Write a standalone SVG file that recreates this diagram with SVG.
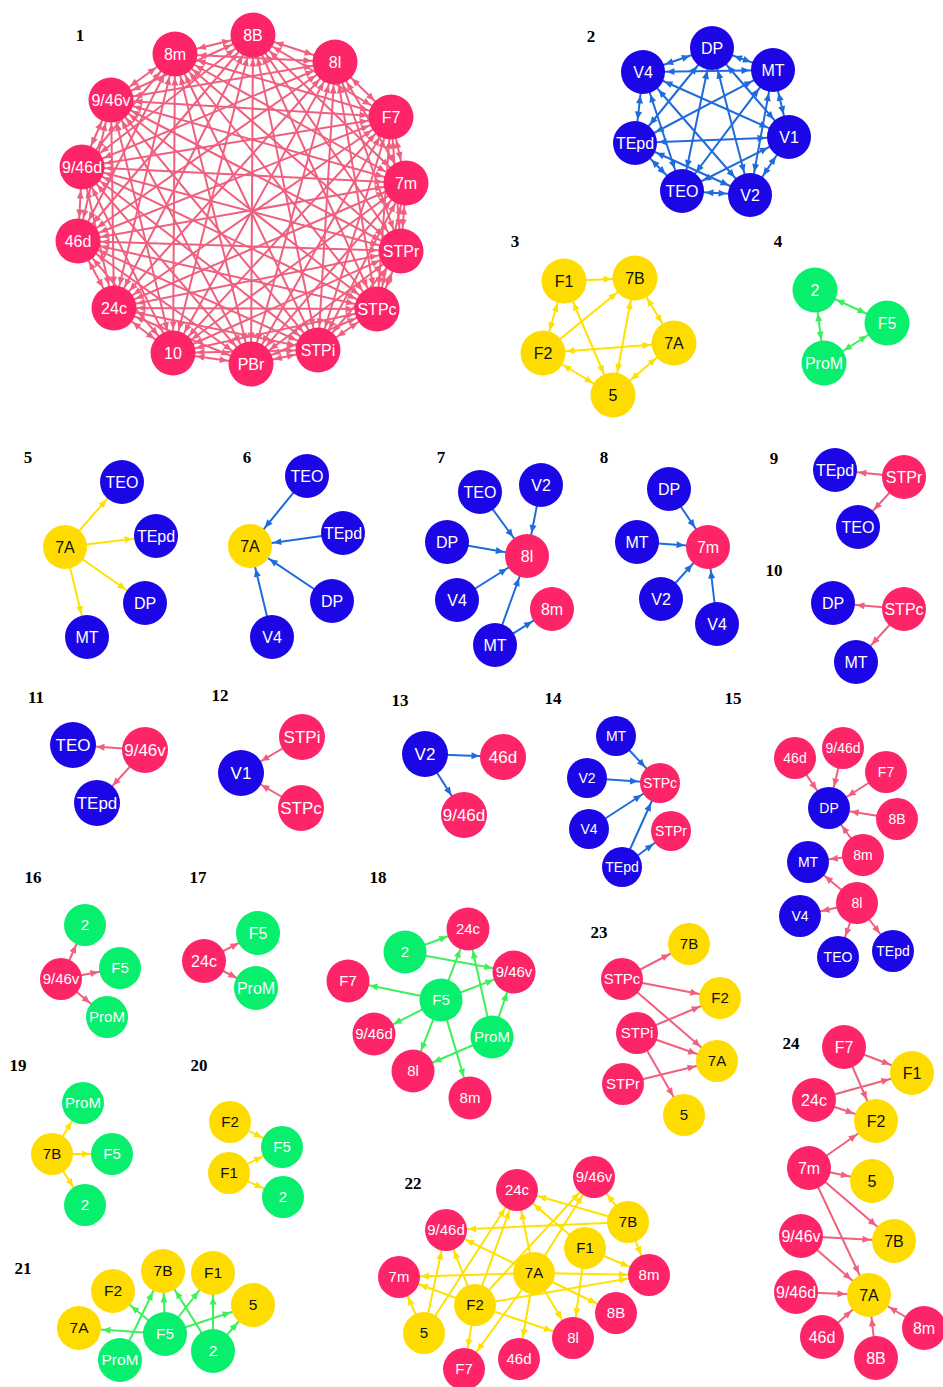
<svg xmlns="http://www.w3.org/2000/svg" width="943" height="1387" viewBox="0 0 943 1387" font-size="16">
<style>
text{font-family:"Liberation Sans",Arial,sans-serif;text-anchor:middle}
.pl{font-family:"Liberation Serif","Times New Roman",serif;font-weight:bold;font-size:17px}
.pk circle{fill:#FD2468}.pk text{fill:#fff}
.bl circle{fill:#1B06E5}.bl text{fill:#fff}
.ye circle{fill:#FFDC00}.ye text{fill:#111}
.gr circle{fill:#07EF6C}.gr text{fill:#fff}
line{stroke-width:2;fill:none}
.eP{stroke:#F0607E}.eB{stroke:#1E6BDB}.eY{stroke:#FFE100}.eG{stroke:#3DF05B}
</style>
<defs>
<marker id="aPL" markerUnits="userSpaceOnUse" orient="auto-start-reverse" refX="33.5" refY="5" markerWidth="12" markerHeight="10"><path d="M10,5L2,1.5L2,8.5z" fill="#F0607E"/></marker>
<marker id="aPS" markerUnits="userSpaceOnUse" orient="auto-start-reverse" refX="32" refY="5" markerWidth="12" markerHeight="10"><path d="M10,5L2,1.5L2,8.5z" fill="#F0607E"/></marker>
<marker id="aBL" markerUnits="userSpaceOnUse" orient="auto-start-reverse" refX="33.5" refY="5" markerWidth="12" markerHeight="10"><path d="M10,5L2,1.5L2,8.5z" fill="#1E6BDB"/></marker>
<marker id="aBS" markerUnits="userSpaceOnUse" orient="auto-start-reverse" refX="32" refY="5" markerWidth="12" markerHeight="10"><path d="M10,5L2,1.5L2,8.5z" fill="#1E6BDB"/></marker>
<marker id="aYL" markerUnits="userSpaceOnUse" orient="auto-start-reverse" refX="33.5" refY="5" markerWidth="12" markerHeight="10"><path d="M10,5L2,1.5L2,8.5z" fill="#FFE100"/></marker>
<marker id="aYS" markerUnits="userSpaceOnUse" orient="auto-start-reverse" refX="32" refY="5" markerWidth="12" markerHeight="10"><path d="M10,5L2,1.5L2,8.5z" fill="#FFE100"/></marker>
<marker id="aGL" markerUnits="userSpaceOnUse" orient="auto-start-reverse" refX="33.5" refY="5" markerWidth="12" markerHeight="10"><path d="M10,5L2,1.5L2,8.5z" fill="#3DF05B"/></marker>
<marker id="aGS" markerUnits="userSpaceOnUse" orient="auto-start-reverse" refX="32" refY="5" markerWidth="12" markerHeight="10"><path d="M10,5L2,1.5L2,8.5z" fill="#3DF05B"/></marker>
</defs>
<rect width="943" height="1387" fill="#fff"/>

<g id="panel-labels">
<text class="pl" x="80" y="41">1</text>
<text class="pl" x="591" y="42">2</text>
<text class="pl" x="515" y="247">3</text>
<text class="pl" x="778" y="247">4</text>
<text class="pl" x="28" y="463">5</text>
<text class="pl" x="247" y="463">6</text>
<text class="pl" x="441" y="463">7</text>
<text class="pl" x="604" y="463">8</text>
<text class="pl" x="774" y="464">9</text>
<text class="pl" x="774" y="576">10</text>
<text class="pl" x="36" y="703">11</text>
<text class="pl" x="220" y="701">12</text>
<text class="pl" x="400" y="706">13</text>
<text class="pl" x="553" y="704">14</text>
<text class="pl" x="733" y="704">15</text>
<text class="pl" x="33" y="883">16</text>
<text class="pl" x="198" y="883">17</text>
<text class="pl" x="378" y="883">18</text>
<text class="pl" x="599" y="938">23</text>
<text class="pl" x="18" y="1071">19</text>
<text class="pl" x="199" y="1071">20</text>
<text class="pl" x="791" y="1049">24</text>
<text class="pl" x="413" y="1189">22</text>
<text class="pl" x="23" y="1274">21</text>
</g>

<g id="connectors">
<g id="c1" class="eP" style="marker-start:url(#aPL);marker-end:url(#aPL)">
<line x1="253" y1="35" x2="335" y2="62"/><line x1="253" y1="35" x2="391" y2="117"/><line x1="253" y1="35" x2="406" y2="183"/><line x1="253" y1="35" x2="401" y2="251"/><line x1="253" y1="35" x2="377" y2="309"/><line x1="253" y1="35" x2="318" y2="350"/><line x1="253" y1="35" x2="251" y2="364"/><line x1="253" y1="35" x2="173" y2="353"/><line x1="253" y1="35" x2="114" y2="308"/><line x1="253" y1="35" x2="78" y2="241"/><line x1="253" y1="35" x2="82" y2="167"/><line x1="253" y1="35" x2="111" y2="100"/><line x1="253" y1="35" x2="175" y2="54"/>
<line x1="335" y1="62" x2="391" y2="117"/><line x1="335" y1="62" x2="406" y2="183"/><line x1="335" y1="62" x2="401" y2="251"/><line x1="335" y1="62" x2="377" y2="309"/><line x1="335" y1="62" x2="318" y2="350"/><line x1="335" y1="62" x2="251" y2="364"/><line x1="335" y1="62" x2="173" y2="353"/><line x1="335" y1="62" x2="114" y2="308"/><line x1="335" y1="62" x2="78" y2="241"/><line x1="335" y1="62" x2="82" y2="167"/><line x1="335" y1="62" x2="111" y2="100"/><line x1="335" y1="62" x2="175" y2="54"/>
<line x1="391" y1="117" x2="406" y2="183"/><line x1="391" y1="117" x2="401" y2="251"/><line x1="391" y1="117" x2="377" y2="309"/><line x1="391" y1="117" x2="318" y2="350"/><line x1="391" y1="117" x2="251" y2="364"/><line x1="391" y1="117" x2="173" y2="353"/><line x1="391" y1="117" x2="114" y2="308"/><line x1="391" y1="117" x2="78" y2="241"/><line x1="391" y1="117" x2="82" y2="167"/><line x1="391" y1="117" x2="111" y2="100"/><line x1="391" y1="117" x2="175" y2="54"/>
<line x1="406" y1="183" x2="401" y2="251"/><line x1="406" y1="183" x2="377" y2="309"/><line x1="406" y1="183" x2="318" y2="350"/><line x1="406" y1="183" x2="251" y2="364"/><line x1="406" y1="183" x2="173" y2="353"/><line x1="406" y1="183" x2="114" y2="308"/><line x1="406" y1="183" x2="78" y2="241"/><line x1="406" y1="183" x2="82" y2="167"/><line x1="406" y1="183" x2="111" y2="100"/><line x1="406" y1="183" x2="175" y2="54"/>
<line x1="401" y1="251" x2="377" y2="309"/><line x1="401" y1="251" x2="318" y2="350"/><line x1="401" y1="251" x2="251" y2="364"/><line x1="401" y1="251" x2="173" y2="353"/><line x1="401" y1="251" x2="114" y2="308"/><line x1="401" y1="251" x2="78" y2="241"/><line x1="401" y1="251" x2="82" y2="167"/><line x1="401" y1="251" x2="111" y2="100"/><line x1="401" y1="251" x2="175" y2="54"/>
<line x1="377" y1="309" x2="318" y2="350"/><line x1="377" y1="309" x2="251" y2="364"/><line x1="377" y1="309" x2="173" y2="353"/><line x1="377" y1="309" x2="114" y2="308"/><line x1="377" y1="309" x2="78" y2="241"/><line x1="377" y1="309" x2="82" y2="167"/><line x1="377" y1="309" x2="111" y2="100"/><line x1="377" y1="309" x2="175" y2="54"/>
<line x1="318" y1="350" x2="251" y2="364"/><line x1="318" y1="350" x2="173" y2="353"/><line x1="318" y1="350" x2="114" y2="308"/><line x1="318" y1="350" x2="78" y2="241"/><line x1="318" y1="350" x2="82" y2="167"/><line x1="318" y1="350" x2="111" y2="100"/><line x1="318" y1="350" x2="175" y2="54"/>
<line x1="251" y1="364" x2="173" y2="353"/><line x1="251" y1="364" x2="114" y2="308"/><line x1="251" y1="364" x2="78" y2="241"/><line x1="251" y1="364" x2="82" y2="167"/><line x1="251" y1="364" x2="111" y2="100"/><line x1="251" y1="364" x2="175" y2="54"/>
<line x1="173" y1="353" x2="114" y2="308"/><line x1="173" y1="353" x2="78" y2="241"/><line x1="173" y1="353" x2="82" y2="167"/><line x1="173" y1="353" x2="111" y2="100"/><line x1="173" y1="353" x2="175" y2="54"/>
<line x1="114" y1="308" x2="78" y2="241"/><line x1="114" y1="308" x2="82" y2="167"/><line x1="114" y1="308" x2="111" y2="100"/><line x1="114" y1="308" x2="175" y2="54"/>
<line x1="78" y1="241" x2="82" y2="167"/><line x1="78" y1="241" x2="111" y2="100"/><line x1="78" y1="241" x2="175" y2="54"/>
<line x1="82" y1="167" x2="111" y2="100"/><line x1="82" y1="167" x2="175" y2="54"/>
<line x1="111" y1="100" x2="175" y2="54"/>
</g>
<g id="c2" class="eB" style="marker-start:url(#aBL);marker-end:url(#aBL)">
<line x1="712" y1="48" x2="773" y2="70"/><line x1="712" y1="48" x2="789" y2="137"/><line x1="712" y1="48" x2="750" y2="195"/><line x1="712" y1="48" x2="682" y2="191"/><line x1="712" y1="48" x2="635" y2="143"/><line x1="712" y1="48" x2="643" y2="72"/>
<line x1="773" y1="70" x2="789" y2="137"/><line x1="773" y1="70" x2="750" y2="195"/><line x1="773" y1="70" x2="682" y2="191"/><line x1="773" y1="70" x2="635" y2="143"/><line x1="773" y1="70" x2="643" y2="72"/>
<line x1="789" y1="137" x2="750" y2="195"/><line x1="789" y1="137" x2="682" y2="191"/><line x1="789" y1="137" x2="635" y2="143"/><line x1="789" y1="137" x2="643" y2="72"/>
<line x1="750" y1="195" x2="682" y2="191"/><line x1="750" y1="195" x2="635" y2="143"/><line x1="750" y1="195" x2="643" y2="72"/>
<line x1="682" y1="191" x2="635" y2="143"/><line x1="682" y1="191" x2="643" y2="72"/>
<line x1="635" y1="143" x2="643" y2="72"/>
</g>
<g id="c3" class="eY" style="marker-end:url(#aYL)">
<line x1="564" y1="281" x2="635" y2="278"/>
<line x1="543" y1="353" x2="635" y2="278"/>
<line x1="564" y1="281" x2="543" y2="353" style="marker-start:url(#aYL)"/>
<line x1="564" y1="281" x2="613" y2="395" style="marker-start:url(#aYL)"/>
<line x1="543" y1="353" x2="674" y2="343" style="marker-start:url(#aYL)"/>
<line x1="543" y1="353" x2="613" y2="395" style="marker-start:url(#aYL)"/>
<line x1="635" y1="278" x2="613" y2="395" style="marker-start:url(#aYL)"/>
<line x1="635" y1="278" x2="674" y2="343" style="marker-start:url(#aYL)"/>
<line x1="674" y1="343" x2="613" y2="395" style="marker-start:url(#aYL)"/>
</g>
<g id="c4" class="eG" style="marker-start:url(#aGL);marker-end:url(#aGL)">
<line x1="815" y1="290" x2="887" y2="323"/><line x1="815" y1="290" x2="824" y2="363"/><line x1="887" y1="323" x2="824" y2="363"/>
</g>
<g id="c5" class="eY" style="marker-end:url(#aYL)">
<line x1="65" y1="547" x2="122" y2="482"/><line x1="65" y1="547" x2="156" y2="536"/><line x1="65" y1="547" x2="145" y2="603"/><line x1="65" y1="547" x2="87" y2="637"/>
</g>
<g id="c6" class="eB" style="marker-end:url(#aBL)">
<line x1="307" y1="476" x2="250" y2="546"/><line x1="343" y1="533" x2="250" y2="546"/><line x1="332" y1="601" x2="250" y2="546"/><line x1="272" y1="637" x2="250" y2="546"/>
</g>
<g id="c7" class="eB" style="marker-end:url(#aBL)">
<line x1="480" y1="492" x2="527" y2="556"/><line x1="541" y1="485" x2="527" y2="556"/><line x1="447" y1="542" x2="527" y2="556"/><line x1="457" y1="600" x2="527" y2="556"/><line x1="495" y1="645" x2="527" y2="556"/><line x1="495" y1="645" x2="552" y2="609"/>
</g>
<g id="c8" class="eB" style="marker-end:url(#aBL)">
<line x1="669" y1="489" x2="708" y2="547"/><line x1="637" y1="542" x2="708" y2="547"/><line x1="661" y1="599" x2="708" y2="547"/><line x1="717" y1="624" x2="708" y2="547"/>
</g>
<g id="c9" class="eP" style="marker-end:url(#aPL)">
<line x1="904" y1="477" x2="835" y2="470"/><line x1="904" y1="477" x2="858" y2="527"/>
</g>
<g id="c10" class="eP" style="marker-end:url(#aPL)">
<line x1="904" y1="609" x2="833" y2="603"/><line x1="904" y1="609" x2="856" y2="662"/>
</g>
<g id="c11" class="eP" style="marker-end:url(#aPL)">
<line x1="145" y1="750" x2="73" y2="745"/><line x1="145" y1="750" x2="97" y2="803"/>
</g>
<g id="c12" class="eP" style="marker-end:url(#aPL)">
<line x1="302" y1="737" x2="241" y2="773"/><line x1="301" y1="808" x2="241" y2="773"/>
</g>
<g id="c13" class="eB" style="marker-end:url(#aBL)">
<line x1="425" y1="754" x2="503" y2="757"/><line x1="425" y1="754" x2="464" y2="815"/>
</g>
<g id="c14" class="eB" style="marker-end:url(#aBS)">
<line x1="616" y1="736" x2="660" y2="783"/><line x1="587" y1="778" x2="660" y2="783"/><line x1="589" y1="829" x2="660" y2="783"/><line x1="622" y1="867" x2="660" y2="783"/><line x1="622" y1="867" x2="671" y2="831"/>
</g>
<g id="c15" class="eP" style="marker-end:url(#aPS)">
<line x1="795" y1="758" x2="829" y2="808"/><line x1="843" y1="748" x2="829" y2="808"/><line x1="886" y1="772" x2="829" y2="808"/><line x1="897" y1="819" x2="829" y2="808"/><line x1="863" y1="855" x2="829" y2="808"/><line x1="863" y1="855" x2="808" y2="862"/><line x1="857" y1="903" x2="808" y2="862"/><line x1="857" y1="903" x2="800" y2="916"/><line x1="857" y1="903" x2="838" y2="957"/><line x1="857" y1="903" x2="893" y2="951"/>
</g>
<g id="c16" class="eP" style="marker-end:url(#aPS)">
<line x1="61" y1="979" x2="85" y2="925"/><line x1="61" y1="979" x2="120" y2="968"/><line x1="61" y1="979" x2="107" y2="1017"/>
</g>
<g id="c17" class="eP" style="marker-end:url(#aPS)">
<line x1="204" y1="961" x2="258" y2="933"/><line x1="204" y1="961" x2="256" y2="988"/>
</g>
<g id="c18" class="eG" style="marker-end:url(#aGS)">
<line x1="405" y1="952" x2="468" y2="929"/><line x1="405" y1="952" x2="514" y2="972"/>
<line x1="441" y1="1000" x2="468" y2="929"/><line x1="441" y1="1000" x2="514" y2="972"/><line x1="441" y1="1000" x2="348" y2="981"/><line x1="441" y1="1000" x2="374" y2="1034"/><line x1="441" y1="1000" x2="413" y2="1071"/><line x1="441" y1="1000" x2="470" y2="1098"/>
<line x1="492" y1="1037" x2="468" y2="929"/><line x1="492" y1="1037" x2="514" y2="972"/><line x1="492" y1="1037" x2="413" y2="1071"/>
</g>
<g id="c19" class="eY" style="marker-end:url(#aYS)">
<line x1="52" y1="1154" x2="83" y2="1103"/><line x1="52" y1="1154" x2="112" y2="1154"/><line x1="52" y1="1154" x2="85" y2="1205"/>
</g>
<g id="c20" class="eY" style="marker-end:url(#aYS)">
<line x1="230" y1="1122" x2="282" y2="1147"/><line x1="229" y1="1173" x2="282" y2="1147"/><line x1="229" y1="1173" x2="283" y2="1197"/>
</g>
<g id="c21" class="eG" style="marker-end:url(#aGL)">
<line x1="165" y1="1334" x2="79" y2="1328"/><line x1="165" y1="1334" x2="113" y2="1291"/><line x1="165" y1="1334" x2="163" y2="1271"/><line x1="165" y1="1334" x2="213" y2="1273"/><line x1="165" y1="1334" x2="253" y2="1305"/>
<line x1="120" y1="1360" x2="163" y2="1271"/><line x1="213" y1="1351" x2="163" y2="1271"/><line x1="213" y1="1351" x2="213" y2="1273"/><line x1="213" y1="1351" x2="253" y2="1305"/>
</g>
<g id="c22" class="eY" style="marker-end:url(#aYS)">
<line x1="628" y1="1222" x2="517" y2="1190"/><line x1="628" y1="1222" x2="594" y2="1177"/><line x1="628" y1="1222" x2="446" y2="1230"/><line x1="628" y1="1222" x2="649" y2="1275"/>
<line x1="585" y1="1248" x2="517" y2="1190"/><line x1="585" y1="1248" x2="649" y2="1275"/><line x1="585" y1="1248" x2="573" y2="1338"/>
<line x1="534" y1="1273" x2="517" y2="1190"/><line x1="534" y1="1273" x2="594" y2="1177"/><line x1="534" y1="1273" x2="446" y2="1230"/><line x1="534" y1="1273" x2="399" y2="1277"/><line x1="534" y1="1273" x2="649" y2="1275"/><line x1="534" y1="1273" x2="616" y2="1313"/><line x1="534" y1="1273" x2="573" y2="1338"/><line x1="534" y1="1273" x2="519" y2="1359"/><line x1="534" y1="1273" x2="464" y2="1369"/>
<line x1="475" y1="1305" x2="517" y2="1190"/><line x1="475" y1="1305" x2="594" y2="1177"/><line x1="475" y1="1305" x2="446" y2="1230"/><line x1="475" y1="1305" x2="399" y2="1277"/><line x1="475" y1="1305" x2="649" y2="1275"/><line x1="475" y1="1305" x2="573" y2="1338"/><line x1="475" y1="1305" x2="464" y2="1369"/>
<line x1="424" y1="1333" x2="517" y2="1190"/><line x1="424" y1="1333" x2="446" y2="1230"/><line x1="424" y1="1333" x2="399" y2="1277"/>
</g>
<g id="c23" class="eP" style="marker-end:url(#aPS)">
<line x1="622" y1="979" x2="689" y2="944"/><line x1="622" y1="979" x2="720" y2="998"/><line x1="622" y1="979" x2="717" y2="1061"/>
<line x1="637" y1="1033" x2="720" y2="998"/><line x1="637" y1="1033" x2="717" y2="1061"/><line x1="637" y1="1033" x2="684" y2="1115"/>
<line x1="623" y1="1084" x2="717" y2="1061"/>
</g>
<g id="c24" class="eP" style="marker-end:url(#aPL)">
<line x1="844" y1="1047" x2="912" y2="1073"/><line x1="844" y1="1047" x2="876" y2="1121"/>
<line x1="814" y1="1100" x2="912" y2="1073"/><line x1="814" y1="1100" x2="876" y2="1121"/>
<line x1="809" y1="1168" x2="876" y2="1121"/><line x1="809" y1="1168" x2="872" y2="1181"/><line x1="809" y1="1168" x2="894" y2="1241"/><line x1="809" y1="1168" x2="869" y2="1295"/>
<line x1="801" y1="1236" x2="894" y2="1241"/><line x1="801" y1="1236" x2="869" y2="1295"/>
<line x1="796" y1="1292" x2="869" y2="1295"/><line x1="822" y1="1337" x2="869" y2="1295"/><line x1="876" y1="1358" x2="869" y2="1295"/><line x1="924" y1="1328" x2="869" y2="1295"/>
</g>
</g>

<g id="nodes">
<g id="panel1">
<g id="n1-8B" class="pk" transform="translate(253,35)"><circle r="22.5"/><text dy=".35em">8B</text></g>
<g id="n1-8l" class="pk" transform="translate(335,62)"><circle r="22.5"/><text dy=".35em">8l</text></g>
<g id="n1-F7" class="pk" transform="translate(391,117)"><circle r="22.5"/><text dy=".35em">F7</text></g>
<g id="n1-7m" class="pk" transform="translate(406,183)"><circle r="22.5"/><text dy=".35em">7m</text></g>
<g id="n1-STPr" class="pk" transform="translate(401,251)"><circle r="22.5"/><text dy=".35em">STPr</text></g>
<g id="n1-STPc" class="pk" transform="translate(377,309)"><circle r="22.5"/><text dy=".35em">STPc</text></g>
<g id="n1-STPi" class="pk" transform="translate(318,350)"><circle r="22.5"/><text dy=".35em">STPi</text></g>
<g id="n1-PBr" class="pk" transform="translate(251,364)"><circle r="22.5"/><text dy=".35em">PBr</text></g>
<g id="n1-10" class="pk" transform="translate(173,353)"><circle r="22.5"/><text dy=".35em">10</text></g>
<g id="n1-24c" class="pk" transform="translate(114,308)"><circle r="22.5"/><text dy=".35em">24c</text></g>
<g id="n1-46d" class="pk" transform="translate(78,241)"><circle r="22.5"/><text dy=".35em">46d</text></g>
<g id="n1-9_46d" class="pk" transform="translate(82,167)"><circle r="22.5"/><text dy=".35em">9/46d</text></g>
<g id="n1-9_46v" class="pk" transform="translate(111,100)"><circle r="22.5"/><text dy=".35em">9/46v</text></g>
<g id="n1-8m" class="pk" transform="translate(175,54)"><circle r="22.5"/><text dy=".35em">8m</text></g>
</g>
<g id="panel2">
<g id="n2-DP" class="bl" transform="translate(712,48)"><circle r="22"/><text dy=".35em">DP</text></g>
<g id="n2-MT" class="bl" transform="translate(773,70)"><circle r="22"/><text dy=".35em">MT</text></g>
<g id="n2-V1" class="bl" transform="translate(789,137)"><circle r="22"/><text dy=".35em">V1</text></g>
<g id="n2-V2" class="bl" transform="translate(750,195)"><circle r="22"/><text dy=".35em">V2</text></g>
<g id="n2-TEO" class="bl" transform="translate(682,191)"><circle r="22"/><text dy=".35em">TEO</text></g>
<g id="n2-TEpd" class="bl" transform="translate(635,143)"><circle r="22"/><text dy=".35em">TEpd</text></g>
<g id="n2-V4" class="bl" transform="translate(643,72)"><circle r="22"/><text dy=".35em">V4</text></g>
</g>
<g id="panel3">
<g id="n3-F1" class="ye" transform="translate(564,281)"><circle r="22.5"/><text dy=".35em">F1</text></g>
<g id="n3-7B" class="ye" transform="translate(635,278)"><circle r="22.5"/><text dy=".35em">7B</text></g>
<g id="n3-7A" class="ye" transform="translate(674,343)"><circle r="22.5"/><text dy=".35em">7A</text></g>
<g id="n3-5" class="ye" transform="translate(613,395)"><circle r="22.5"/><text dy=".35em">5</text></g>
<g id="n3-F2" class="ye" transform="translate(543,353)"><circle r="22.5"/><text dy=".35em">F2</text></g>
</g>
<g id="panel4">
<g id="n4-2" class="gr" transform="translate(815,290)"><circle r="22.5"/><text dy=".35em">2</text></g>
<g id="n4-F5" class="gr" transform="translate(887,323)"><circle r="22.5"/><text dy=".35em">F5</text></g>
<g id="n4-ProM" class="gr" transform="translate(824,363)"><circle r="22.5"/><text dy=".35em">ProM</text></g>
</g>
<g id="panel5">
<g id="n5-7A" class="ye" transform="translate(65,547)"><circle r="22"/><text dy=".35em">7A</text></g>
<g id="n5-TEO" class="bl" transform="translate(122,482)"><circle r="22"/><text dy=".35em">TEO</text></g>
<g id="n5-TEpd" class="bl" transform="translate(156,536)"><circle r="22"/><text dy=".35em">TEpd</text></g>
<g id="n5-DP" class="bl" transform="translate(145,603)"><circle r="22"/><text dy=".35em">DP</text></g>
<g id="n5-MT" class="bl" transform="translate(87,637)"><circle r="22"/><text dy=".35em">MT</text></g>
</g>
<g id="panel6">
<g id="n6-7A" class="ye" transform="translate(250,546)"><circle r="22"/><text dy=".35em">7A</text></g>
<g id="n6-TEO" class="bl" transform="translate(307,476)"><circle r="22"/><text dy=".35em">TEO</text></g>
<g id="n6-TEpd" class="bl" transform="translate(343,533)"><circle r="22"/><text dy=".35em">TEpd</text></g>
<g id="n6-DP" class="bl" transform="translate(332,601)"><circle r="22"/><text dy=".35em">DP</text></g>
<g id="n6-V4" class="bl" transform="translate(272,637)"><circle r="22"/><text dy=".35em">V4</text></g>
</g>
<g id="panel7">
<g id="n7-TEO" class="bl" transform="translate(480,492)"><circle r="22"/><text dy=".35em">TEO</text></g>
<g id="n7-V2" class="bl" transform="translate(541,485)"><circle r="22"/><text dy=".35em">V2</text></g>
<g id="n7-DP" class="bl" transform="translate(447,542)"><circle r="22"/><text dy=".35em">DP</text></g>
<g id="n7-8l" class="pk" transform="translate(527,556)"><circle r="22"/><text dy=".35em">8l</text></g>
<g id="n7-V4" class="bl" transform="translate(457,600)"><circle r="22"/><text dy=".35em">V4</text></g>
<g id="n7-MT" class="bl" transform="translate(495,645)"><circle r="22"/><text dy=".35em">MT</text></g>
<g id="n7-8m" class="pk" transform="translate(552,609)"><circle r="22"/><text dy=".35em">8m</text></g>
</g>
<g id="panel8">
<g id="n8-DP" class="bl" transform="translate(669,489)"><circle r="22"/><text dy=".35em">DP</text></g>
<g id="n8-MT" class="bl" transform="translate(637,542)"><circle r="22"/><text dy=".35em">MT</text></g>
<g id="n8-7m" class="pk" transform="translate(708,547)"><circle r="22"/><text dy=".35em">7m</text></g>
<g id="n8-V2" class="bl" transform="translate(661,599)"><circle r="22"/><text dy=".35em">V2</text></g>
<g id="n8-V4" class="bl" transform="translate(717,624)"><circle r="22"/><text dy=".35em">V4</text></g>
</g>
<g id="panel9">
<g id="n9-TEpd" class="bl" transform="translate(835,470)"><circle r="22"/><text dy=".35em">TEpd</text></g>
<g id="n9-STPr" class="pk" transform="translate(904,477)"><circle r="22"/><text dy=".35em">STPr</text></g>
<g id="n9-TEO" class="bl" transform="translate(858,527)"><circle r="22"/><text dy=".35em">TEO</text></g>
</g>
<g id="panel10">
<g id="n10-DP" class="bl" transform="translate(833,603)"><circle r="22"/><text dy=".35em">DP</text></g>
<g id="n10-STPc" class="pk" transform="translate(904,609)"><circle r="22"/><text dy=".35em">STPc</text></g>
<g id="n10-MT" class="bl" transform="translate(856,662)"><circle r="22"/><text dy=".35em">MT</text></g>
</g>
<g id="panel11" font-size="17">
<g id="n11-TEO" class="bl" transform="translate(73,745)"><circle r="23"/><text dy=".35em">TEO</text></g>
<g id="n11-9_46v" class="pk" transform="translate(145,750)"><circle r="23"/><text dy=".35em">9/46v</text></g>
<g id="n11-TEpd" class="bl" transform="translate(97,803)"><circle r="23"/><text dy=".35em">TEpd</text></g>
</g>
<g id="panel12" font-size="17">
<g id="n12-STPi" class="pk" transform="translate(302,737)"><circle r="23"/><text dy=".35em">STPi</text></g>
<g id="n12-V1" class="bl" transform="translate(241,773)"><circle r="23"/><text dy=".35em">V1</text></g>
<g id="n12-STPc" class="pk" transform="translate(301,808)"><circle r="23"/><text dy=".35em">STPc</text></g>
</g>
<g id="panel13" font-size="17">
<g id="n13-V2" class="bl" transform="translate(425,754)"><circle r="23"/><text dy=".35em">V2</text></g>
<g id="n13-46d" class="pk" transform="translate(503,757)"><circle r="23"/><text dy=".35em">46d</text></g>
<g id="n13-9_46d" class="pk" transform="translate(464,815)"><circle r="23"/><text dy=".35em">9/46d</text></g>
</g>
<g id="panel14" font-size="14">
<g id="n14-MT" class="bl" transform="translate(616,736)"><circle r="20"/><text dy=".35em">MT</text></g>
<g id="n14-V2" class="bl" transform="translate(587,778)"><circle r="20"/><text dy=".35em">V2</text></g>
<g id="n14-STPc" class="pk" transform="translate(660,783)"><circle r="20"/><text dy=".35em">STPc</text></g>
<g id="n14-V4" class="bl" transform="translate(589,829)"><circle r="20"/><text dy=".35em">V4</text></g>
<g id="n14-STPr" class="pk" transform="translate(671,831)"><circle r="20"/><text dy=".35em">STPr</text></g>
<g id="n14-TEpd" class="bl" transform="translate(622,867)"><circle r="20"/><text dy=".35em">TEpd</text></g>
</g>
<g id="panel15" font-size="14">
<g id="n15-46d" class="pk" transform="translate(795,758)"><circle r="21"/><text dy=".35em">46d</text></g>
<g id="n15-9_46d" class="pk" transform="translate(843,748)"><circle r="21"/><text dy=".35em">9/46d</text></g>
<g id="n15-F7" class="pk" transform="translate(886,772)"><circle r="21"/><text dy=".35em">F7</text></g>
<g id="n15-DP" class="bl" transform="translate(829,808)"><circle r="21"/><text dy=".35em">DP</text></g>
<g id="n15-8B" class="pk" transform="translate(897,819)"><circle r="21"/><text dy=".35em">8B</text></g>
<g id="n15-8m" class="pk" transform="translate(863,855)"><circle r="21"/><text dy=".35em">8m</text></g>
<g id="n15-MT" class="bl" transform="translate(808,862)"><circle r="21"/><text dy=".35em">MT</text></g>
<g id="n15-8l" class="pk" transform="translate(857,903)"><circle r="21"/><text dy=".35em">8l</text></g>
<g id="n15-V4" class="bl" transform="translate(800,916)"><circle r="21"/><text dy=".35em">V4</text></g>
<g id="n15-TEO" class="bl" transform="translate(838,957)"><circle r="21"/><text dy=".35em">TEO</text></g>
<g id="n15-TEpd" class="bl" transform="translate(893,951)"><circle r="21"/><text dy=".35em">TEpd</text></g>
</g>
<g id="panel16" font-size="15">
<g id="n16-2" class="gr" transform="translate(85,925)"><circle r="21"/><text dy=".35em">2</text></g>
<g id="n16-9_46v" class="pk" transform="translate(61,979)"><circle r="21"/><text dy=".35em">9/46v</text></g>
<g id="n16-F5" class="gr" transform="translate(120,968)"><circle r="21"/><text dy=".35em">F5</text></g>
<g id="n16-ProM" class="gr" transform="translate(107,1017)"><circle r="21"/><text dy=".35em">ProM</text></g>
</g>
<g id="panel17">
<g id="n17-F5" class="gr" transform="translate(258,933)"><circle r="22"/><text dy=".35em">F5</text></g>
<g id="n17-24c" class="pk" transform="translate(204,961)"><circle r="22"/><text dy=".35em">24c</text></g>
<g id="n17-ProM" class="gr" transform="translate(256,988)"><circle r="22"/><text dy=".35em">ProM</text></g>
</g>
<g id="panel18" font-size="15">
<g id="n18-24c" class="pk" transform="translate(468,929)"><circle r="21.5"/><text dy=".35em">24c</text></g>
<g id="n18-2" class="gr" transform="translate(405,952)"><circle r="21.5"/><text dy=".35em">2</text></g>
<g id="n18-9_46v" class="pk" transform="translate(514,972)"><circle r="21.5"/><text dy=".35em">9/46v</text></g>
<g id="n18-F7" class="pk" transform="translate(348,981)"><circle r="21.5"/><text dy=".35em">F7</text></g>
<g id="n18-F5" class="gr" transform="translate(441,1000)"><circle r="21.5"/><text dy=".35em">F5</text></g>
<g id="n18-9_46d" class="pk" transform="translate(374,1034)"><circle r="21.5"/><text dy=".35em">9/46d</text></g>
<g id="n18-ProM" class="gr" transform="translate(492,1037)"><circle r="21.5"/><text dy=".35em">ProM</text></g>
<g id="n18-8l" class="pk" transform="translate(413,1071)"><circle r="21.5"/><text dy=".35em">8l</text></g>
<g id="n18-8m" class="pk" transform="translate(470,1098)"><circle r="21.5"/><text dy=".35em">8m</text></g>
</g>
<g id="panel19" font-size="15">
<g id="n19-ProM" class="gr" transform="translate(83,1103)"><circle r="21"/><text dy=".35em">ProM</text></g>
<g id="n19-7B" class="ye" transform="translate(52,1154)"><circle r="21"/><text dy=".35em">7B</text></g>
<g id="n19-F5" class="gr" transform="translate(112,1154)"><circle r="21"/><text dy=".35em">F5</text></g>
<g id="n19-2" class="gr" transform="translate(85,1205)"><circle r="21"/><text dy=".35em">2</text></g>
</g>
<g id="panel20" font-size="15">
<g id="n20-F2" class="ye" transform="translate(230,1122)"><circle r="21"/><text dy=".35em">F2</text></g>
<g id="n20-F5" class="gr" transform="translate(282,1147)"><circle r="21"/><text dy=".35em">F5</text></g>
<g id="n20-F1" class="ye" transform="translate(229,1173)"><circle r="21"/><text dy=".35em">F1</text></g>
<g id="n20-2" class="gr" transform="translate(283,1197)"><circle r="21"/><text dy=".35em">2</text></g>
</g>
<g id="panel21" font-size="15.5">
<g id="n21-7B" class="ye" transform="translate(163,1271)"><circle r="22"/><text dy=".35em">7B</text></g>
<g id="n21-F1" class="ye" transform="translate(213,1273)"><circle r="22"/><text dy=".35em">F1</text></g>
<g id="n21-F2" class="ye" transform="translate(113,1291)"><circle r="22"/><text dy=".35em">F2</text></g>
<g id="n21-5" class="ye" transform="translate(253,1305)"><circle r="22"/><text dy=".35em">5</text></g>
<g id="n21-7A" class="ye" transform="translate(79,1328)"><circle r="22"/><text dy=".35em">7A</text></g>
<g id="n21-F5" class="gr" transform="translate(165,1334)"><circle r="22"/><text dy=".35em">F5</text></g>
<g id="n21-2" class="gr" transform="translate(213,1351)"><circle r="22"/><text dy=".35em">2</text></g>
<g id="n21-ProM" class="gr" transform="translate(120,1360)"><circle r="22"/><text dy=".35em">ProM</text></g>
</g>
<g id="panel22" font-size="15">
<g id="n22-24c" class="pk" transform="translate(517,1190)"><circle r="21"/><text dy=".35em">24c</text></g>
<g id="n22-9_46v" class="pk" transform="translate(594,1177)"><circle r="21"/><text dy=".35em">9/46v</text></g>
<g id="n22-7B" class="ye" transform="translate(628,1222)"><circle r="21"/><text dy=".35em">7B</text></g>
<g id="n22-9_46d" class="pk" transform="translate(446,1230)"><circle r="21"/><text dy=".35em">9/46d</text></g>
<g id="n22-F1" class="ye" transform="translate(585,1248)"><circle r="21"/><text dy=".35em">F1</text></g>
<g id="n22-7m" class="pk" transform="translate(399,1277)"><circle r="21"/><text dy=".35em">7m</text></g>
<g id="n22-7A" class="ye" transform="translate(534,1273)"><circle r="21"/><text dy=".35em">7A</text></g>
<g id="n22-8m" class="pk" transform="translate(649,1275)"><circle r="21"/><text dy=".35em">8m</text></g>
<g id="n22-F2" class="ye" transform="translate(475,1305)"><circle r="21"/><text dy=".35em">F2</text></g>
<g id="n22-5" class="ye" transform="translate(424,1333)"><circle r="21"/><text dy=".35em">5</text></g>
<g id="n22-8B" class="pk" transform="translate(616,1313)"><circle r="21"/><text dy=".35em">8B</text></g>
<g id="n22-8l" class="pk" transform="translate(573,1338)"><circle r="21"/><text dy=".35em">8l</text></g>
<g id="n22-46d" class="pk" transform="translate(519,1359)"><circle r="21"/><text dy=".35em">46d</text></g>
<g id="n22-F7" class="pk" transform="translate(464,1369)"><circle r="21"/><text dy=".35em">F7</text></g>
</g>
<g id="panel23" font-size="15">
<g id="n23-7B" class="ye" transform="translate(689,944)"><circle r="21"/><text dy=".35em">7B</text></g>
<g id="n23-STPc" class="pk" transform="translate(622,979)"><circle r="21"/><text dy=".35em">STPc</text></g>
<g id="n23-F2" class="ye" transform="translate(720,998)"><circle r="21"/><text dy=".35em">F2</text></g>
<g id="n23-STPi" class="pk" transform="translate(637,1033)"><circle r="21"/><text dy=".35em">STPi</text></g>
<g id="n23-7A" class="ye" transform="translate(717,1061)"><circle r="21"/><text dy=".35em">7A</text></g>
<g id="n23-STPr" class="pk" transform="translate(623,1084)"><circle r="21"/><text dy=".35em">STPr</text></g>
<g id="n23-5" class="ye" transform="translate(684,1115)"><circle r="21"/><text dy=".35em">5</text></g>
</g>
<g id="panel24" font-size="16">
<g id="n24-F7" class="pk" transform="translate(844,1047)"><circle r="22"/><text dy=".35em">F7</text></g>
<g id="n24-F1" class="ye" transform="translate(912,1073)"><circle r="22"/><text dy=".35em">F1</text></g>
<g id="n24-24c" class="pk" transform="translate(814,1100)"><circle r="22"/><text dy=".35em">24c</text></g>
<g id="n24-F2" class="ye" transform="translate(876,1121)"><circle r="22"/><text dy=".35em">F2</text></g>
<g id="n24-7m" class="pk" transform="translate(809,1168)"><circle r="22"/><text dy=".35em">7m</text></g>
<g id="n24-5" class="ye" transform="translate(872,1181)"><circle r="22"/><text dy=".35em">5</text></g>
<g id="n24-9_46v" class="pk" transform="translate(801,1236)"><circle r="22"/><text dy=".35em">9/46v</text></g>
<g id="n24-7B" class="ye" transform="translate(894,1241)"><circle r="22"/><text dy=".35em">7B</text></g>
<g id="n24-9_46d" class="pk" transform="translate(796,1292)"><circle r="22"/><text dy=".35em">9/46d</text></g>
<g id="n24-7A" class="ye" transform="translate(869,1295)"><circle r="22"/><text dy=".35em">7A</text></g>
<g id="n24-46d" class="pk" transform="translate(822,1337)"><circle r="22"/><text dy=".35em">46d</text></g>
<g id="n24-8B" class="pk" transform="translate(876,1358)"><circle r="22"/><text dy=".35em">8B</text></g>
<g id="n24-8m" class="pk" transform="translate(924,1328)"><circle r="22"/><text dy=".35em">8m</text></g>
</g>
</g>
</svg>
